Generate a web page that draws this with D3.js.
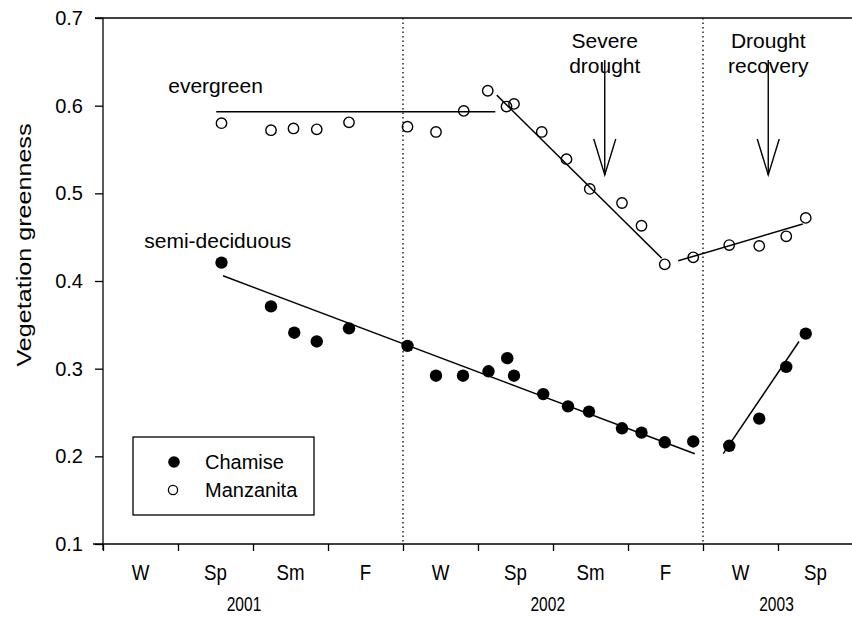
<!DOCTYPE html>
<html>
<head>
<script src="https://d3js.org/d3.v7.min.js"></script>
<style>
  body { margin: 0; background: #fff; }
  text { font-family: "Liberation Sans", Arial, sans-serif; fill: #000; }
</style>
</head>
<body>
<svg id="chart" width="852" height="617"></svg>
<script>
// time axis in season units: 0 = start of winter 2001, one unit per season
var seasons = ["W", "Sp", "Sm", "F", "W", "Sp", "Sm", "F", "W", "Sp"];
var years = ["2001", "2002", "2003"];
var yearPos = [1.88, 5.93, 8.98];
var dividers = [4, 8];
var yTicks = [0.1, 0.2, 0.3, 0.4, 0.5, 0.6, 0.7];

var manzT = [1.58, 2.24, 2.54, 2.85, 3.28, 4.06, 4.44, 4.81, 5.13, 5.38, 5.48, 5.85, 6.18, 6.49, 6.92, 7.18, 7.49, 7.87, 8.35, 8.75, 9.11, 9.37];
var manzV = [0.580, 0.572, 0.574, 0.573, 0.581, 0.576, 0.570, 0.594, 0.617, 0.599, 0.602, 0.570, 0.539, 0.505, 0.489, 0.463, 0.419, 0.427, 0.441, 0.440, 0.451, 0.472];

var chamT = [1.58, 2.24, 2.55, 2.85, 3.28, 4.06, 4.44, 4.80, 5.14, 5.39, 5.48, 5.87, 6.20, 6.48, 6.92, 7.18, 7.49, 7.87, 8.35, 8.75, 9.11, 9.37];
var chamV = [0.421, 0.371, 0.341, 0.331, 0.346, 0.326, 0.292, 0.292, 0.297, 0.312, 0.292, 0.271, 0.257, 0.251, 0.232, 0.227, 0.216, 0.217, 0.212, 0.243, 0.302, 0.340];

// fitted trend segments [t0, v0, t1, v1]
var manzTrends = [[1.51, 0.593, 5.23, 0.593], [5.25, 0.612, 7.45, 0.426], [7.67, 0.423, 9.33, 0.465]];
var chamTrends = [[1.60, 0.406, 7.89, 0.203], [8.27, 0.203, 9.28, 0.331]];

var notes = [
  { text: "evergreen", t: 0.87, v: 0.615 },
  { text: "semi-deciduous", t: 0.55, v: 0.438 }
];
var arrows = [
  { lines: ["Severe", "drought"], t: 6.69, top: 0.652, tip: 0.521 },
  { lines: ["Drought", "recovery"], t: 8.87, top: 0.652, tip: 0.521 }
];

var svg = d3.select("#chart");
var x = d3.scaleLinear().domain([0, 10]).range([103, 853]);
var y = d3.scaleLinear().domain([0.1, 0.7]).range([544, 18]);

// top rule
svg.append("line").attr("x1", 95).attr("x2", 852)
  .attr("y1", y(0.7)).attr("y2", y(0.7)).attr("stroke", "#000").attr("stroke-width", 1.3);

// y axis
var yAxis = svg.append("g").attr("transform", "translate(" + x(0) + ",0)")
  .call(d3.axisLeft(y).tickValues(yTicks).tickFormat(d3.format(".1f")).tickSize(8).tickSizeOuter(0));
yAxis.select(".domain").remove();
yAxis.selectAll("line").attr("stroke-width", 1.3);
yAxis.selectAll("text").attr("x", -20).style("font-size", "20px").style("font-family", "Liberation Sans, Arial, sans-serif");
svg.append("line").attr("x1", x(0)).attr("x2", x(0)).attr("y1", y(0.7)).attr("y2", y(0.1) + 6)
  .attr("stroke", "#000").attr("stroke-width", 1.3);

// x axis
var xAxis = svg.append("g").attr("transform", "translate(0," + y(0.1) + ")")
  .call(d3.axisBottom(x).tickValues(d3.range(0, 11)).tickFormat("").tickSize(7).tickSizeOuter(0));
xAxis.select(".domain").remove();
xAxis.selectAll("line").attr("stroke-width", 1.3);
svg.append("line").attr("x1", x(0) - 10).attr("x2", 852).attr("y1", y(0.1)).attr("y2", y(0.1))
  .attr("stroke", "#000").attr("stroke-width", 1.3);

svg.selectAll(".season").data(seasons).join("text")
  .attr("class", "season")
  .attr("text-anchor", "middle")
  .attr("transform", (d, i) => "translate(" + x(i + 0.5) + ",580) scale(0.85,1)")
  .style("font-size", "22px")
  .text(d => d);

svg.selectAll(".year").data(years).join("text")
  .attr("class", "year")
  .attr("text-anchor", "middle")
  .attr("transform", (d, i) => "translate(" + x(yearPos[i]) + ",611) scale(0.74,1)")
  .style("font-size", "21px")
  .text(d => d);

svg.append("text")
  .attr("transform", "translate(31," + (y(0.4) - 36) + ") rotate(-90)")
  .attr("text-anchor", "middle")
  .attr("textLength", 243).attr("lengthAdjust", "spacingAndGlyphs")
  .style("font-size", "20px")
  .text("Vegetation greenness");

// year dividers
svg.selectAll(".div").data(dividers).join("line")
  .attr("x1", d => x(d)).attr("x2", d => x(d))
  .attr("y1", y(0.7)).attr("y2", y(0.1))
  .attr("stroke", "#000").attr("stroke-width", 1.3).attr("stroke-dasharray", "1.5,3");

// trend lines
svg.selectAll(".trend").data(manzTrends.concat(chamTrends)).join("line")
  .attr("x1", d => x(d[0])).attr("y1", d => y(d[1]))
  .attr("x2", d => x(d[2])).attr("y2", d => y(d[3]))
  .attr("stroke", "#000").attr("stroke-width", 1.5);

// points
svg.selectAll(".cham").data(chamV).join("circle")
  .attr("cx", (d, i) => x(chamT[i])).attr("cy", d => y(d)).attr("r", 6.2).attr("fill", "#000");
svg.selectAll(".manz").data(manzV).join("circle")
  .attr("cx", (d, i) => x(manzT[i])).attr("cy", d => y(d)).attr("r", 5.2)
  .attr("fill", "none").attr("stroke", "#000").attr("stroke-width", 1.4);

// labels
notes.forEach(n => {
  svg.append("text").attr("x", x(n.t)).attr("y", y(n.v))
    .style("font-size", "21px").text(n.text);
});

arrows.forEach(a => {
  a.lines.forEach((l, i) => {
    svg.append("text").attr("x", x(a.t)).attr("y", 48 + i * 25)
      .attr("text-anchor", "middle").style("font-size", "21px").text(l);
  });
  var ax = x(a.t), y0 = y(a.top), y1 = y(a.tip);
  svg.append("line").attr("x1", ax).attr("x2", ax).attr("y1", y0).attr("y2", y1)
    .attr("stroke", "#000").attr("stroke-width", 1.4);
  svg.append("path")
    .attr("d", "M" + (ax - 11) + "," + (y1 - 36) + "L" + ax + "," + y1 + "L" + (ax + 11) + "," + (y1 - 36))
    .attr("fill", "none").attr("stroke", "#000").attr("stroke-width", 1.4);
});

// legend
var lg = svg.append("g").attr("transform", "translate(133,437)");
lg.append("rect").attr("width", 181).attr("height", 78)
  .attr("fill", "none").attr("stroke", "#000").attr("stroke-width", 1.3);
lg.append("circle").attr("cx", 41).attr("cy", 25).attr("r", 5.8).attr("fill", "#000");
lg.append("circle").attr("cx", 40).attr("cy", 53).attr("r", 4.6)
  .attr("fill", "none").attr("stroke", "#000").attr("stroke-width", 1.3);
lg.append("text").attr("x", 72).attr("y", 32).style("font-size", "20px").text("Chamise");
lg.append("text").attr("x", 72).attr("y", 60).style("font-size", "20px").text("Manzanita");
</script>
</body>
</html>
